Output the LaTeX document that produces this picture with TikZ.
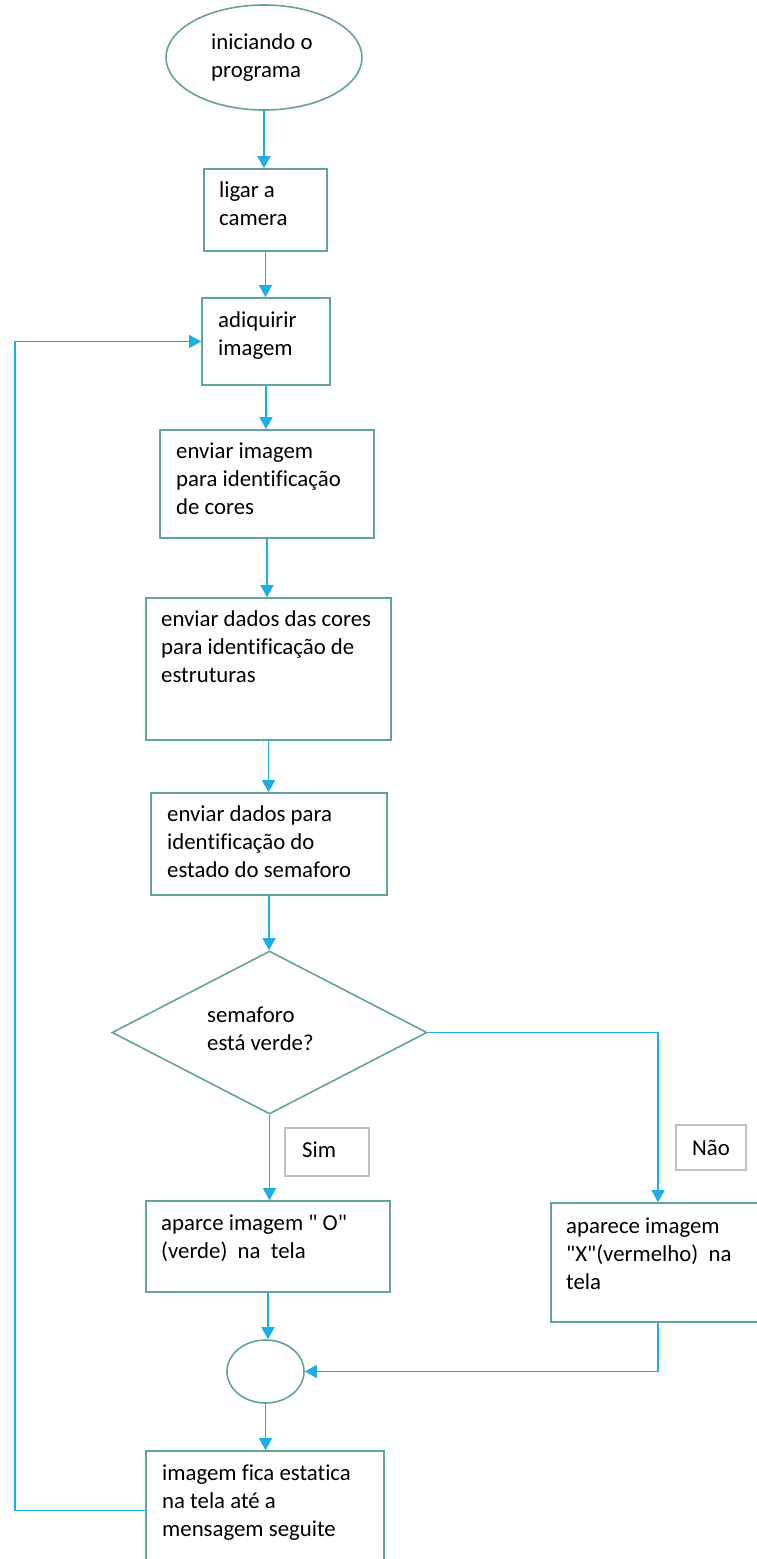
\documentclass[tikz,border=0pt]{standalone}
\usepackage{fontspec}
\setmainfont{Carlito}[Ligatures=NoCommon]
\usetikzlibrary{arrows.meta,shapes.geometric}

\definecolor{edgeteal}{HTML}{62A39E}
\definecolor{flowcyan}{HTML}{1DAEE3}
\definecolor{taggrey}{HTML}{C0C0C0}

\newcommand\flowfont{\fontsize{22.8}{28}\selectfont}
\newcommand\sq{\textquotedbl}

\tikzset{
  shapeline/.style={draw=edgeteal, line width=1.6pt, inner sep=0pt},
  stepbox/.style={shapeline, rectangle},
  terminal/.style={shapeline, ellipse},
  decision/.style={shapeline, diamond},
  tagbox/.style={draw=taggrey, line width=1.3pt, rectangle, inner sep=0pt, font=\flowfont},
  txt/.style={anchor=north west, inner sep=0pt, align=left, font=\flowfont},
  flow/.style={draw=flowcyan, line width=1.3pt, -{Triangle[width=13pt,length=12pt]}},
}

\begin{document}
\begin{tikzpicture}[x=1pt,y=-1pt]
\useasboundingbox (0,0) rectangle (757,1559);

% shapes
\node[terminal, minimum width=196pt, minimum height=105pt] (start) at (264,57.5) {};
\node[stepbox, minimum width=123pt, minimum height=82pt]  (cam)   at (265.5,210) {};
\node[stepbox, minimum width=128pt, minimum height=87pt]  (acq)   at (266,341.5) {};
\node[stepbox, minimum width=214pt, minimum height=108pt] (col)   at (267,484) {};
\node[stepbox, minimum width=245pt, minimum height=142pt] (est)   at (268.5,669) {};
\node[stepbox, minimum width=236pt, minimum height=102pt] (sem)   at (269,844) {};
\node[decision, minimum width=315pt, minimum height=163pt] (dec)  at (269.5,1032.5) {};
\node[stepbox, minimum width=244pt, minimum height=91pt]  (green) at (268,1246.5) {};
\node[stepbox, minimum width=214pt, minimum height=119pt] (red)   at (658,1262.5) {};
\node[terminal, minimum width=77pt, minimum height=63pt]  (join)  at (265.5,1371.5) {};
\node[stepbox, minimum width=238pt, minimum height=119pt] (hold)  at (265,1510.5) {};

% labels of the two branches
\node[tagbox, minimum width=84pt, minimum height=48pt] (yes) at (327,1152) {};
\node[txt] (tyes) at (302,1137.4) {\strut Sim};
\node[tagbox, minimum width=70pt, minimum height=45pt] (no)  at (711,1147.5) {Não};

% texts
\node[txt] (tstart) at (211,29.4)   {\strut iniciando o\\programa};
\node[txt] (tcam)   at (219,177.4)  {\strut ligar a\\camera};
\node[txt] (tacq)   at (218,307.4)  {\strut adiquirir\\imagem};
\node[txt] (tcol)   at (176,438.4)  {\strut enviar imagem\\para identificação\\de cores};
\node[txt] (test)   at (161,606.4)  {\strut enviar dados das cores\\para identificação de\\estruturas};
\node[txt] (tsem)   at (167,801.4)  {\strut enviar dados para\\identificação do\\estado do semaforo};
\node[txt] (tdec)   at (207,1002.4) {\strut semaforo\\está verde?};
\node[txt] (tgreen) at (161,1210.4) {\strut aparce imagem \sq\ O\sq\\(verde)\ \ na\ \ tela};
\node[txt] (tred)   at (566,1213.4) {\strut aparece imagem\\\sq X\sq(vermelho)\ \ na\\tela};
\node[txt] (thold)  at (162,1460.4) {\strut imagem fica estatica\\na tela até a\\mensagem seguite};

% connectors
\coordinate (loop) at (15,0);
\draw[flow] (start.south) -- (start.south |- cam.north);
\draw[flow] (cam.south) -- (cam.south |- acq.north);
\draw[flow] (acq.south) -- (acq.south |- col.north);
\draw[flow] (col.south) -- (col.south |- est.north);
\draw[flow] (est.south) -- (est.south |- sem.north);
\draw[flow] (sem.south) -- (sem.south |- dec.north);
\draw[flow] (dec.south) -- (dec.south |- green.north);
\draw[flow] (dec.east) -| (red.north);
\draw[flow] (green.south) -- (green.south |- join.north);
\draw[flow] (red.south) |- (join.east);
\draw[flow] (join.south) -- (join.south |- hold.north);
\draw[flow] (hold.west) -- (hold.west -| loop) -- (loop |- acq.west) -- (acq.west);
\end{tikzpicture}
\end{document}
